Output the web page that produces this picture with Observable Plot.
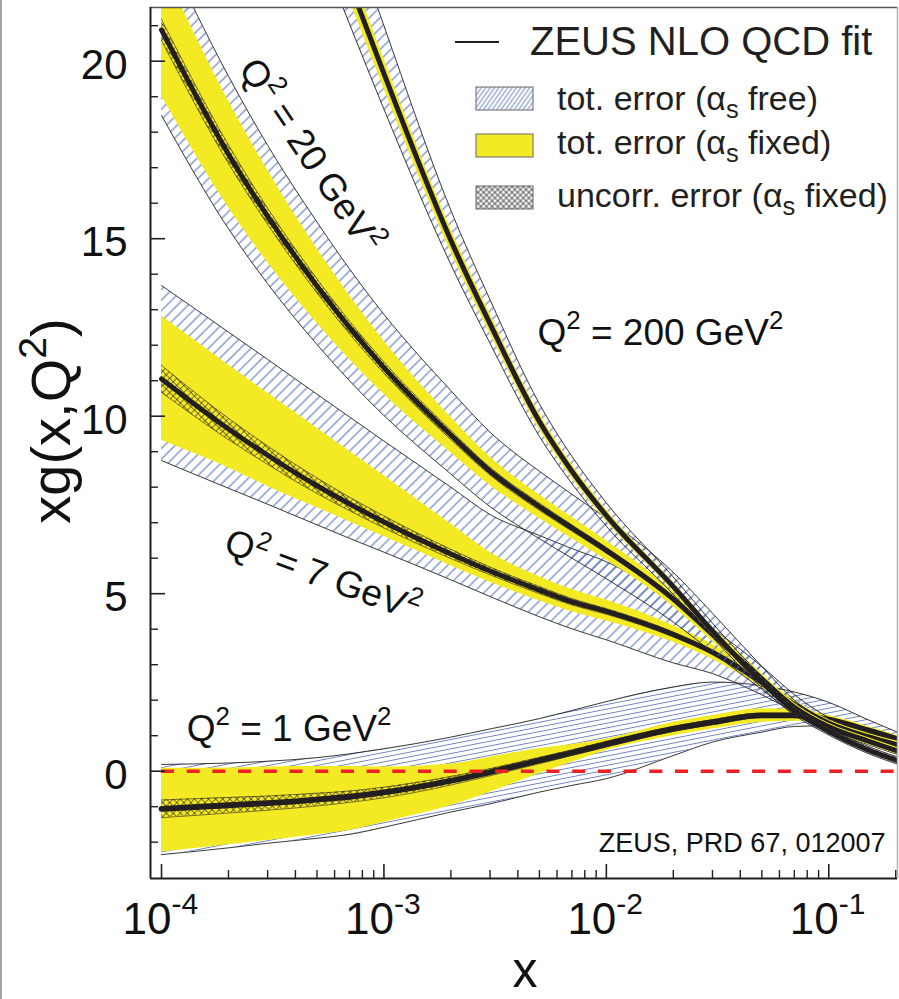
<!DOCTYPE html>
<html><head><meta charset="utf-8">
<script src="https://cdn.jsdelivr.net/npm/d3@7"></script>
<script src="https://cdn.jsdelivr.net/npm/@observablehq/plot@0.6"></script>
<style>
body{margin:0;background:#fff;}
#wrap{position:relative;width:899px;height:999px;overflow:hidden;background:#fff;}
#border{position:absolute;left:0;top:0;width:2px;height:999px;background:#a3a3a3;}
</style></head><body>
<svg width="0" height="0" style="position:absolute">
<defs>
<pattern id="hatchA" patternUnits="userSpaceOnUse" width="7.5" height="7.5" patternTransform="rotate(45)">
  <line x1="3.75" y1="-1" x2="3.75" y2="8.5" stroke="#4a6ab5" stroke-width="1"/>
</pattern>
<pattern id="hatchB" patternUnits="userSpaceOnUse" width="10" height="4.6" patternTransform="rotate(-11)">
  <line x1="-1" y1="2.3" x2="11" y2="2.3" stroke="#4a6ab5" stroke-width="0.8"/>
</pattern>
<pattern id="hatchL" patternUnits="userSpaceOnUse" width="3.6" height="3.6" patternTransform="rotate(35)">
  <line x1="1.8" y1="-1" x2="1.8" y2="5" stroke="#4a6ab5" stroke-width="0.8"/>
</pattern>
<pattern id="cross" patternUnits="userSpaceOnUse" width="5" height="5" patternTransform="rotate(45)">
  <line x1="2.5" y1="-1" x2="2.5" y2="6" stroke="#231f20" stroke-width="0.6"/>
  <line x1="-1" y1="2.5" x2="6" y2="2.5" stroke="#231f20" stroke-width="0.6"/>
</pattern>
<pattern id="crossL" patternUnits="userSpaceOnUse" width="4" height="4" patternTransform="rotate(45)">
  <line x1="2" y1="-1" x2="2" y2="5" stroke="#231f20" stroke-width="0.7"/>
  <line x1="-1" y1="2" x2="5" y2="2" stroke="#231f20" stroke-width="0.7"/>
</pattern>
</defs></svg>
<div id="wrap"><div id="border"></div></div>
<script>
// ---------- data ----------
const xGrid = [1e-4, 2e-4, 3e-4, 5e-4, 7e-4, 1e-3, 2e-3, 3e-3, 5e-3, 7e-3, 1e-2, 2e-2, 3e-2, 5e-2, 7e-2, 0.1, 0.15, 0.2037];

// Q2 = 1 GeV2
const q1Central = [-1.06, -0.96, -0.9, -0.8, -0.72, -0.6, -0.27, -0.03, 0.30, 0.52, 0.76, 1.19, 1.38, 1.57, 1.57, 1.45, 1.15, 0.9];
const q1YelHi   = [0.08, 0.09, 0.12, 0.13, 0.13, 0.12, 0.2, 0.4, 0.64, 0.75, 0.91, 1.38, 1.57, 1.76, 1.73, 1.57, 1.26, 1.0];
const q1YelLo   = [-2.28, -2.07, -1.95, -1.79, -1.67, -1.44, -0.97, -0.59, -0.07, 0.25, 0.58, 1.0, 1.19, 1.38, 1.41, 1.33, 1.04, 0.8];
const q1HatHi   = [0.19, 0.23, 0.28, 0.38, 0.49, 0.63, 0.96, 1.19, 1.48, 1.71, 1.96, 2.37, 2.51, 2.41, 2.23, 1.94, 1.45, 1.1];
const q1HatLo   = [-2.35, -2.16, -2.03, -1.89, -1.78, -1.58, -1.15, -0.92, -0.59, -0.4, -0.21, 0.44, 0.82, 1.10, 1.26, 1.28, 1.0, 0.78];
const q1UncHi   = [-0.81, -0.74, -0.7, -0.62, -0.56, -0.45, -0.15, 0.07, 0.39, 0.6, 0.84, 1.26, 1.45, 1.63, 1.63, 1.51, 1.21, 0.96];
const q1UncLo   = [-1.31, -1.18, -1.1, -0.98, -0.88, -0.75, -0.39, -0.13, 0.21, 0.44, 0.68, 1.12, 1.31, 1.51, 1.51, 1.39, 1.09, 0.84];

// Q2 = 7 GeV2
const q7Central = [11.05, 9.64, 8.9, 8.04, 7.53, 7.02, 6.12, 5.64, 5.1, 4.77, 4.5, 3.85, 3.35, 2.5, 1.88, 1.35, 0.97, 0.74];
const q7YelHi   = [12.82, 11.44, 10.65, 9.66, 9.01, 8.32, 6.96, 6.16, 5.48, 5.12, 4.82, 4.10, 3.57, 2.66, 2.0, 1.45, 1.07, 0.84];
const q7YelLo   = [9.32, 8.54, 8.02, 7.42, 7.03, 6.61, 5.79, 5.32, 4.8, 4.49, 4.23, 3.63, 3.15, 2.35, 1.76, 1.25, 0.87, 0.64];
const q7HatHi   = [13.68, 12.37, 11.6, 10.62, 9.98, 9.3, 8.0, 7.23, 6.64, 6.27, 5.9, 4.78, 4.02, 2.95, 2.16, 1.51, 1.09, 0.86];
const q7HatLo   = [8.75, 7.97, 7.52, 6.94, 6.56, 6.17, 5.39, 4.92, 4.35, 4.01, 3.7, 3.05, 2.75, 2.15, 1.68, 1.2, 0.85, 0.62];
const q7UncHi   = [11.43, 9.94, 9.16, 8.26, 7.72, 7.19, 6.25, 5.75, 5.2, 4.86, 4.58, 3.92, 3.41, 2.56, 1.93, 1.4, 1.02, 0.79];
const q7UncLo   = [10.67, 9.34, 8.64, 7.82, 7.34, 6.85, 5.99, 5.53, 5.0, 4.68, 4.42, 3.78, 3.29, 2.44, 1.83, 1.3, 0.92, 0.69];

// Q2 = 20 GeV2
const q20Central = [20.88, 17.38, 15.63, 13.67, 12.5, 11.37, 9.47, 8.45, 7.45, 6.85, 6.22, 4.85, 3.85, 2.6, 1.8, 1.25, 0.85, 0.57];
const q20YelHi   = [22.73, 18.88, 16.93, 14.72, 13.4, 12.12, 9.97, 8.85, 7.78, 7.15, 6.49, 5.07, 4.05, 2.75, 1.92, 1.35, 0.95, 0.67];
const q20YelLo   = [19.03, 15.88, 14.33, 12.62, 11.6, 10.62, 8.97, 8.05, 7.12, 6.55, 5.95, 4.63, 3.65, 2.45, 1.68, 1.15, 0.75, 0.47];
const q20HatHi   = [23.38, 19.58, 17.63, 15.47, 14.15, 12.87, 10.72, 9.55, 8.45, 7.8, 7.12, 5.6, 4.45, 2.95, 2.0, 1.37, 0.95, 0.67];
const q20HatLo   = [18.47, 15.28, 13.73, 12.02, 11.0, 10.02, 8.37, 7.45, 6.55, 6.0, 5.42, 4.2, 3.35, 2.3, 1.62, 1.13, 0.75, 0.47];
const q20UncHi   = [21.18, 17.64, 15.86, 13.87, 12.68, 11.53, 9.6, 8.56, 7.55, 6.94, 6.3, 4.92, 3.91, 2.65, 1.85, 1.3, 0.9, 0.62];
const q20UncLo   = [20.58, 17.12, 15.4, 13.47, 12.32, 11.21, 9.34, 8.34, 7.35, 6.76, 6.14, 4.78, 3.79, 2.55, 1.75, 1.2, 0.8, 0.52];

// Q2 = 200 GeV2 (first grid points lie far above the frame)
const q200Central = [null, null, null, 24.7, 22.2, 19.65, 14.95, 12.6, 9.85, 8.45, 7.2, 5.2, 3.95, 2.5, 1.7, 1.12, 0.6, 0.3];
const q200YelHi   = [null, null, null, 25.22, 22.67, 20.07, 15.27, 12.87, 10.07, 8.64, 7.36, 5.32, 4.05, 2.58, 1.77, 1.18, 0.65, 0.35];
const q200YelLo   = [null, null, null, 24.18, 21.73, 19.23, 14.63, 12.33, 9.63, 8.26, 7.04, 5.08, 3.85, 2.42, 1.63, 1.06, 0.55, 0.25];
const q200HatHi   = [null, null, null, 26.6, 23.8, 21.0, 15.8, 13.28, 10.35, 8.87, 7.56, 5.47, 4.17, 2.67, 1.83, 1.22, 0.7, 0.4];
const q200HatLo   = [null, null, null, 23.35, 21.05, 18.65, 14.27, 12.05, 9.43, 8.1, 6.9, 4.98, 3.77, 2.35, 1.58, 1.02, 0.5, 0.2];
const q200UncHi   = [null, null, null, 24.8, 22.3, 19.75, 15.03, 12.67, 9.9, 8.49, 7.23, 5.22, 3.97, 2.52, 1.72, 1.14, 0.62, 0.32];
const q200UncLo   = [null, null, null, 24.6, 22.1, 19.55, 14.87, 12.53, 9.8, 8.41, 7.17, 5.18, 3.93, 2.48, 1.68, 1.1, 0.58, 0.28];

// axes
const xDomain = [8.922e-5, 0.2037];
const yDomain = [-3.023, 21.513];
const xMajor = [1e-4, 1e-3, 1e-2, 1e-1];
const xExp = ["-4", "-3", "-2", "-1"];
const xMinor = [2e-4,3e-4,4e-4,5e-4,6e-4,7e-4,8e-4,9e-4,2e-3,3e-3,4e-3,5e-3,6e-3,7e-3,8e-3,9e-3,2e-2,3e-2,4e-2,5e-2,6e-2,7e-2,8e-2,9e-2,0.2];
const yMajor = [0, 5, 10, 15, 20];
const yMinor = [-2,-1,1,2,3,4,6,7,8,9,11,12,13,14,16,17,18,19,21];

// annotations
const qLabelText = ["Q^2 = 1 GeV^2", "Q^2 = 7 GeV^2", "Q^2 = 20 GeV^2", "Q^2 = 200 GeV^2"];
const qLabelX = [3.743e-4, 5.293e-4, 4.675e-4, 0.0175];
const qLabelY = [1.19, 5.51, 17.34, 12.35];
const qLabelRot = [0, 20, 56, 0];
const caption = "ZEUS, PRD 67, 012007";
const legendTitle = "ZEUS NLO QCD fit";
const legendItems = ["tot. error (α_s free)", "tot. error (α_s fixed)", "uncorr. error (α_s fixed)"];

// ---------- drawing ----------
const FONT = "'Liberation Sans', Arial, Helvetica, sans-serif";
const ink = "#231f20";
const yellow = "#f4ea24";
const curve = "monotone-x";

function rows(c, yl, yh, hl, hh, ul, uh) {
  return xGrid.map((x, i) => ({x, c: c[i], yl: yl[i], yh: yh[i], hl: hl[i], hh: hh[i], ul: ul[i], uh: uh[i]}))
    .filter(d => d.c != null);
}
function band(data, hatch, lw) {
  return [
    Plot.areaY(data, {x: "x", y1: "hl", y2: "hh", fill: `url(#${hatch})`, curve, clip: true}),
    Plot.line(data, {x: "x", y: "hh", stroke: ink, strokeWidth: 0.9, curve, clip: true}),
    Plot.line(data, {x: "x", y: "hl", stroke: ink, strokeWidth: 0.9, curve, clip: true}),
    Plot.areaY(data, {x: "x", y1: "yl", y2: "yh", fill: yellow, curve, clip: true}),
    Plot.areaY(data, {x: "x", y1: "ul", y2: "uh", fill: "url(#cross)", curve, clip: true}),
    Plot.line(data, {x: "x", y: "uh", stroke: ink, strokeWidth: 0.6, curve, clip: true}),
    Plot.line(data, {x: "x", y: "ul", stroke: ink, strokeWidth: 0.6, curve, clip: true}),
    Plot.line(data, {x: "x", y: "c", stroke: ink, strokeWidth: lw, curve, clip: true})
  ];
}
const d1 = rows(q1Central, q1YelLo, q1YelHi, q1HatLo, q1HatHi, q1UncLo, q1UncHi);
const d7 = rows(q7Central, q7YelLo, q7YelHi, q7HatLo, q7HatHi, q7UncLo, q7UncHi);
const d20 = rows(q20Central, q20YelLo, q20YelHi, q20HatLo, q20HatHi, q20UncLo, q20UncHi);
const d200 = rows(q200Central, q200YelLo, q200YelHi, q200HatLo, q200HatHi, q200UncLo, q200UncHi);

const chart = Plot.plot({
  width: 899, height: 999,
  marginLeft: 150, marginRight: 2, marginTop: 7, marginBottom: 121,
  style: {fontFamily: FONT, background: "#fff", overflow: "hidden"},
  x: {type: "log", domain: xDomain, axis: null},
  y: {domain: yDomain, axis: null},
  marks: [
    ...band(d1, "hatchB", 5.8),
    ...band(d7, "hatchA", 5),
    ...band(d20, "hatchA", 5),
    ...band(d200, "hatchA", 5),
    Plot.ruleY([0], {x1: xMajor[0], x2: xDomain[1], stroke: "#ed2024", strokeWidth: 3.5, strokeDasharray: "13 12.7"}),
    // frame
    Plot.ruleY([yDomain[1]], {stroke: "#555", strokeWidth: 1.5}),
    Plot.ruleX([xDomain[1]], {stroke: "#b0b0b0", strokeWidth: 1.5}),
    Plot.ruleX([xDomain[0]], {stroke: ink, strokeWidth: 2}),
    Plot.ruleY([yDomain[0]], {stroke: ink, strokeWidth: 2}),
    // ticks
    Plot.ruleX(xMajor, {x: d => d, stroke: ink, strokeWidth: 1.6, insetTop: 857}),
    Plot.ruleX(xMinor, {x: d => d, stroke: ink, strokeWidth: 1.4, insetTop: 863}),
    Plot.ruleY(yMajor, {y: d => d, stroke: ink, strokeWidth: 1.6, insetRight: 732}),
    Plot.ruleY(yMinor, {y: d => d, stroke: ink, strokeWidth: 1.4, insetRight: 739}),
    // tick labels
    Plot.text(yMajor, {y: d => d, text: d => String(d), frameAnchor: "left", textAnchor: "end", lineAnchor: "middle", dx: -23, dy: 4, fontSize: 42, fill: "#111"}),
    Plot.text(xMajor, {x: d => d, text: () => "10", frameAnchor: "bottom", textAnchor: "end", lineAnchor: "bottom", dx: 10, dy: 55, fontSize: 44, fill: "#111"}),
    Plot.text(xMajor, {x: d => d, text: (d, i) => xExp[i], frameAnchor: "bottom", textAnchor: "start", lineAnchor: "bottom", dx: 10, dy: 35, fontSize: 30, fill: "#111"}),
    // annotations
    Plot.text(qLabelText, {x: (d, i) => qLabelX[i], y: (d, i) => qLabelY[i], rotate: (d, i) => qLabelRot[i], text: d => d, textAnchor: "middle", lineAnchor: "middle", fontSize: 37, fill: "#111"}),
    Plot.text([caption], {x: [0.1799], y: [-2.28], text: d => d, textAnchor: "end", lineAnchor: "bottom", fontSize: 27, fill: "#111"})
  ]
});
document.getElementById("wrap").prepend(chart);

const svg = d3.select(chart);
// axis titles
svg.append("text").attr("transform", "translate(50,421) rotate(-90)").attr("text-anchor", "middle").attr("dy", "0.35em")
  .attr("font-family", FONT).attr("font-size", 56).attr("fill", "#111").text("xg(x,Q^2)");
svg.append("text").attr("x", 525).attr("y", 987).attr("text-anchor", "middle")
  .attr("font-family", FONT).attr("font-size", 50).attr("fill", "#111").text("x");
// legend
const lg = svg.append("g").attr("font-family", FONT).attr("fill", "#231f20").attr("text-anchor", "start");
lg.append("line").attr("x1", 455).attr("x2", 499).attr("y1", 42).attr("y2", 42).attr("stroke", ink).attr("stroke-width", 2.2);
lg.append("text").attr("x", 530).attr("y", 55).attr("font-size", 40).text(legendTitle);
const swFill = ["url(#hatchL)", yellow, "url(#crossL)"];
const swY = [87, 134, 186];
const txY = [110, 154, 207];
legendItems.forEach((t, i) => {
  lg.append("rect").attr("x", 476).attr("y", swY[i]).attr("width", 57).attr("height", 23)
    .attr("fill", swFill[i]).attr("stroke", "#666").attr("stroke-width", 1);
  lg.append("text").attr("x", 557).attr("y", txY[i]).attr("font-size", 34).text(t);
});

// superscripts / subscripts as real tspans
function richify(root) {
  root.querySelectorAll("text").forEach(t => {
    const s = t.textContent;
    if (!/[\^_]/.test(s)) return;
    const parts = []; let buf = "";
    for (let i = 0; i < s.length; i++) {
      const ch = s[i];
      if ((ch === "^" || ch === "_") && i + 1 < s.length) {
        if (buf) parts.push({t: buf, k: 0});
        buf = "";
        parts.push({t: s[i + 1], k: ch === "^" ? 1 : -1});
        i++;
      } else buf += ch;
    }
    if (buf) parts.push({t: buf, k: 0});
    const F = parseFloat(getComputedStyle(t).fontSize) || 30;
    while (t.firstChild) t.removeChild(t.firstChild);
    let off = 0;
    parts.forEach(p => {
      const ts = document.createElementNS("http://www.w3.org/2000/svg", "tspan");
      let target = 0, size = F;
      if (p.k === 1) { target = -0.42 * F; size = 0.7 * F; }
      if (p.k === -1) { target = 0.24 * F; size = 0.75 * F; }
      const dy = target - off;
      if (dy !== 0) ts.setAttribute("dy", dy);
      off = target;
      ts.setAttribute("font-size", size);
      ts.textContent = p.t;
      t.appendChild(ts);
    });
  });
}
richify(chart);
</script>
</body></html>
